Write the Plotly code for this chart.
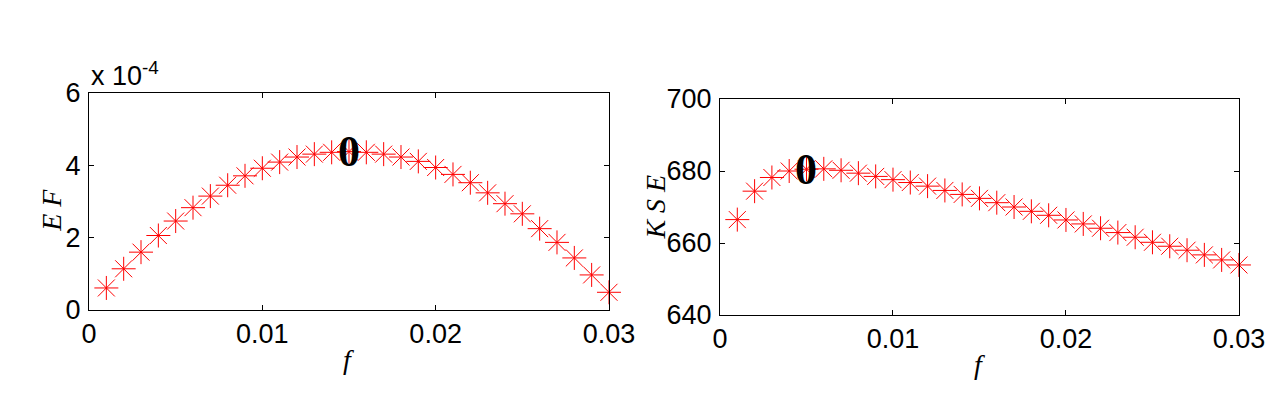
import plotly.graph_objects as go

# f values shared by both panels
f = [0.001, 0.002, 0.003, 0.004, 0.005, 0.006, 0.007, 0.008, 0.009, 0.010,
     0.011, 0.012, 0.013, 0.014, 0.015, 0.016, 0.017, 0.018, 0.019, 0.020,
     0.021, 0.022, 0.023, 0.024, 0.025, 0.026, 0.027, 0.028, 0.029, 0.030]

# EF in units of 1e-4
ef = [0.61, 1.14, 1.60, 2.06, 2.46, 2.83, 3.15, 3.45, 3.71, 3.92,
      4.09, 4.23, 4.31, 4.36, 4.38, 4.36, 4.31, 4.23, 4.11, 3.94,
      3.75, 3.52, 3.24, 2.94, 2.66, 2.25, 1.87, 1.44, 0.97, 0.49]

kse = [666.5, 674.4, 678.2, 680.0, 680.5, 680.6, 680.2, 679.4, 678.5, 677.6,
       676.8, 675.8, 674.6, 673.5, 672.4, 671.2, 670.0, 668.8, 667.7, 666.4,
       665.3, 664.1, 662.9, 661.6, 660.2, 659.1, 658.0, 656.7, 655.3, 653.9]

# highlighted points (marked with a bold "0")
ef_mark_f = 0.015
kse_mark_f = 0.005

x_ticks = [0, 0.01, 0.02, 0.03]
x_ticktext = ["0", "0.01", "0.02", "0.03"]
ef_ticks = [0, 2, 4, 6]
kse_ticks = [640, 660, 680, 700]

RED = "#ff0000"
TICKFONT = dict(family="Liberation Sans, Arial, sans-serif", size=27, color="black")
LABELFONT = dict(family="Liberation Serif, Times New Roman, serif", size=28, color="black")
MARKFONT = dict(family="Liberation Serif, Times New Roman, serif", size=44, color="black")

fig = go.Figure()

for xa, ya, ys in [("x", "y", ef), ("x2", "y2", kse)]:
    fig.add_trace(go.Scatter(
        x=f, y=ys, xaxis=xa, yaxis=ya, mode="markers", cliponaxis=False,
        marker=dict(symbol="asterisk-open", size=20, color=RED,
                    line=dict(color=RED, width=1)),
        showlegend=False, hoverinfo="skip"))

axis_common = dict(
    showgrid=False, zeroline=False, showline=True, linecolor="black", linewidth=1,
    mirror="ticks", ticks="inside", ticklen=5, tickcolor="black", tickwidth=1,
    tickfont=TICKFONT, automargin=False,
)

# page body adds 8px offset, domains compensate for it
fig.update_layout(
    width=1288, height=419,
    margin=dict(l=0, r=0, t=0, b=0),
    paper_bgcolor="white", plot_bgcolor="white",
    xaxis=dict(domain=[0.0629, 0.4666], range=[0, 0.03], tickvals=x_ticks,
               ticktext=x_ticktext, anchor="y", **axis_common),
    yaxis=dict(domain=[0.2792, 0.7971], range=[0, 6], tickvals=ef_ticks,
               anchor="x", ticklabelstandoff=2, **axis_common),
    xaxis2=dict(domain=[0.5528, 0.9557], range=[0, 0.03], tickvals=x_ticks,
                ticktext=x_ticktext, anchor="y2", **axis_common),
    yaxis2=dict(domain=[0.2673, 0.7828], range=[640, 700], tickvals=kse_ticks,
                anchor="x2", ticklabelstandoff=2, **axis_common),
)

i1 = f.index(ef_mark_f)
i2 = f.index(kse_mark_f)

annotations = [
    # "0" markers on the highlighted points
    dict(x=f[i1], y=ef[i1], xref="x", yref="y", text="<b>0</b>", showarrow=False,
         font=MARKFONT, xanchor="center", yanchor="middle"),
    dict(x=f[i2], y=kse[i2], xref="x2", yref="y2", text="<b>0</b>", showarrow=False,
         font=MARKFONT, xanchor="center", yanchor="middle"),
    # exponent note
    dict(x=0, y=1.0, xref="x domain", yref="y domain", text="x 10<sup>-4</sup>",
         showarrow=False, font=TICKFONT, xanchor="left", yanchor="bottom", yshift=0),
    # axis labels
    dict(x=0.5, y=-0.23, xref="x domain", yref="y domain", text="<i>f</i>",
         showarrow=False, font=LABELFONT, xanchor="center", yanchor="middle"),
    dict(x=0.5, y=-0.23, xref="x2 domain", yref="y2 domain", text="<i>f</i>",
         showarrow=False, font=LABELFONT, xanchor="center", yanchor="middle"),
    dict(x=-0.072, y=0.46, xref="x domain", yref="y domain", text="<i>E F</i>",
         showarrow=False, font=LABELFONT, textangle=-90, xanchor="center", yanchor="middle"),
    dict(x=-0.126, y=0.5, xref="x2 domain", yref="y2 domain", text="<i>K S E</i>",
         showarrow=False, font=LABELFONT, textangle=-90, xanchor="center", yanchor="middle"),
]
fig.update_layout(annotations=annotations)

fig.write_html("out.html")
